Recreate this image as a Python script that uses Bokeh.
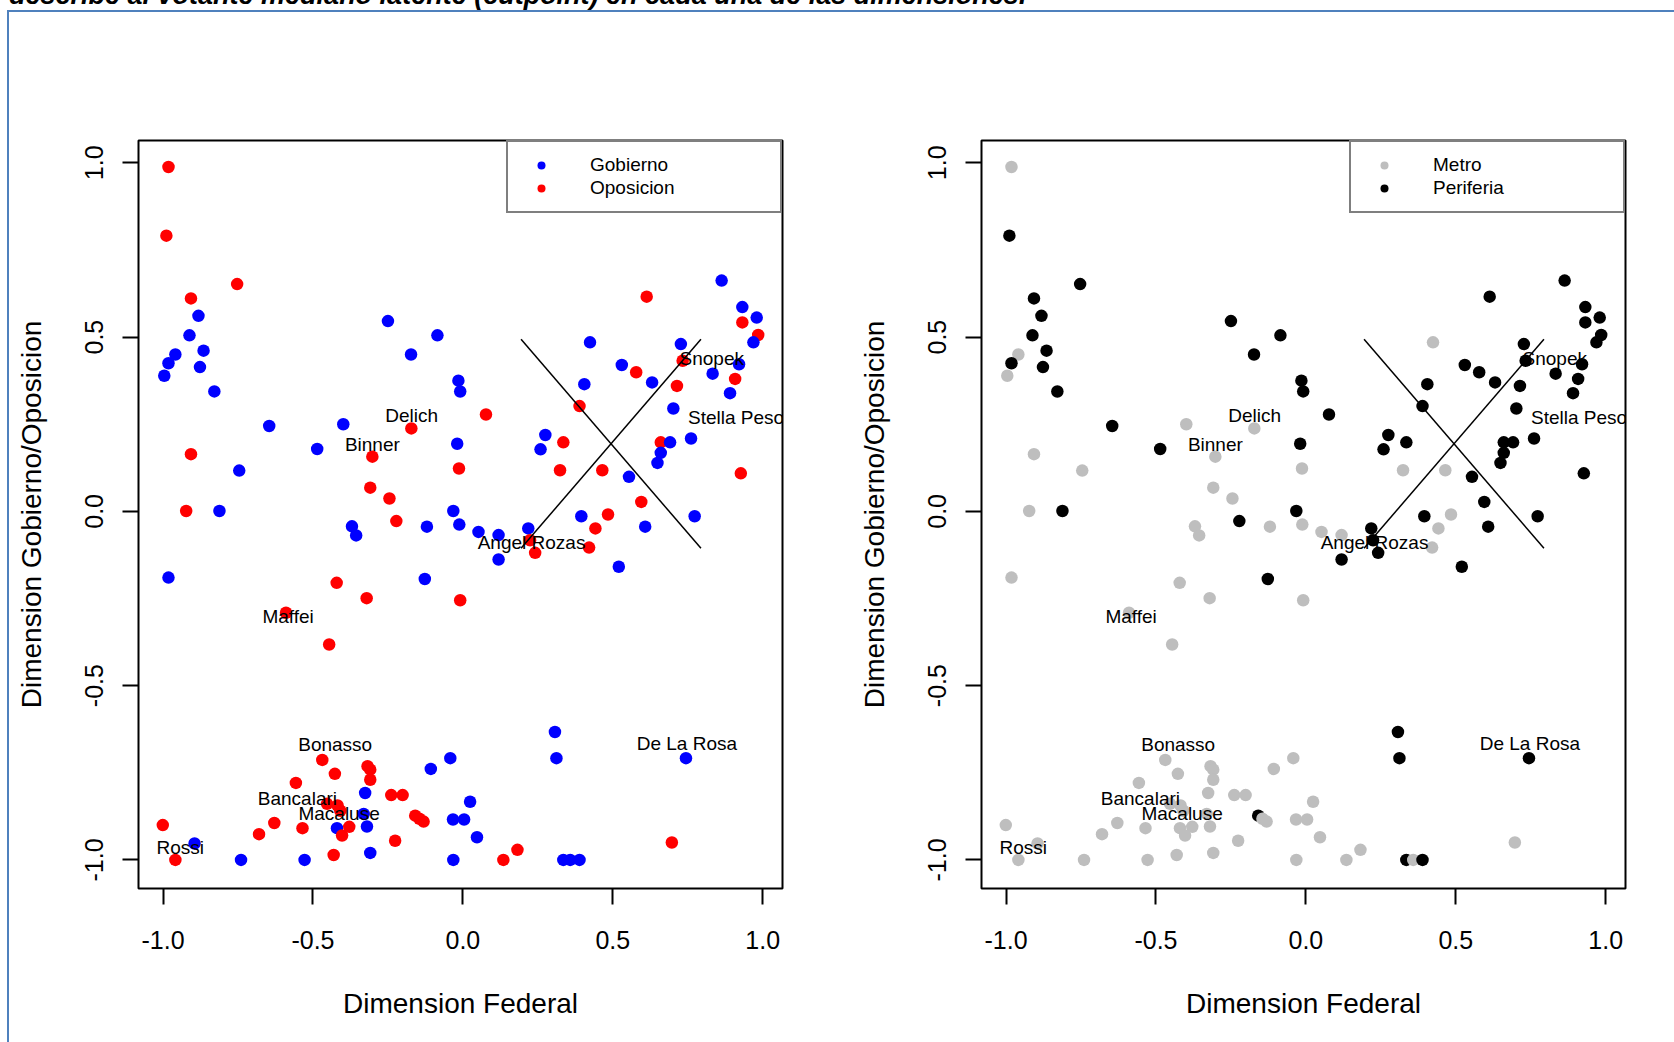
from bokeh.plotting import figure
from bokeh.models import (ColumnDataSource, FixedTicker, PrintfTickFormatter,
                          Legend, LegendItem, Div)
from bokeh.layouts import column, row
from bokeh.embed import file_html
from bokeh.resources import INLINE
from bokeh.core.properties import value

# ---------------- data ----------------
x = [
    -0.982, -0.989, -0.753, -0.907, -0.882, -0.912, -0.865, -0.959, -0.982, -0.877,
    -0.996, -0.829, -0.250, -0.085, -0.173, -0.015, -0.009, -0.646, -0.399, -0.172,
    -0.486, -0.302, -0.907, -0.019, -0.746, -0.013, 0.863, 0.613, 0.932, 0.932,
    0.980, 0.985, 0.969, 0.424, 0.727, 0.733, 0.921, 0.530, 0.578, 0.833,
    0.908, 0.631, 0.405, 0.714, 0.891, 0.077, 0.702, 0.389, 0.275, 0.761,
    0.335, 0.660, 0.691, 0.259, 0.660, 0.649, 0.324, 0.465, 0.554, 0.927,
    -0.309, -0.245, -0.923, -0.812, -0.222, -0.032, -0.012, -0.370, -0.356, -0.120,
    -0.982, -0.127, -0.421, -0.321, -0.009, -0.590, -0.446, -0.469, -0.318, -0.309,
    -0.427, -0.309, -0.107, -0.042, -0.557, -0.326, -0.239, -0.201, 0.024, -0.453,
    -0.418, -0.409, -0.331, -0.159, -0.145, -0.131, -0.033, 0.004, -1.001, -0.629,
    -0.680, -0.535, -0.420, -0.379, -0.320, -0.403, -0.226, -0.895, -0.959, -0.740,
    -0.528, -0.431, -0.309, -0.032, 0.052, 0.119, 0.218, 0.224, 0.241, 0.119,
    0.395, 0.484, 0.595, 0.608, 0.442, 0.421, 0.520, 0.773, 0.307, 0.312,
    0.744, 0.047, 0.182, 0.135, 0.335, 0.358, 0.389, 0.697,
]
y = [
    0.988, 0.791, 0.652, 0.611, 0.561, 0.505, 0.461, 0.450, 0.425, 0.414,
    0.389, 0.344, 0.546, 0.505, 0.450, 0.375, 0.344, 0.245, 0.250, 0.238,
    0.179, 0.157, 0.164, 0.194, 0.117, 0.123, 0.662, 0.616, 0.586, 0.542,
    0.556, 0.506, 0.485, 0.485, 0.480, 0.432, 0.422, 0.420, 0.399, 0.395,
    0.380, 0.370, 0.365, 0.360, 0.339, 0.278, 0.295, 0.302, 0.219, 0.209,
    0.198, 0.198, 0.198, 0.178, 0.168, 0.139, 0.118, 0.118, 0.099, 0.109,
    0.068, 0.037, 0.001, 0.001, -0.028, 0.001, -0.038, -0.043, -0.069, -0.044,
    -0.190, -0.194, -0.205, -0.249, -0.255, -0.291, -0.382, -0.713, -0.731, -0.741,
    -0.753, -0.770, -0.739, -0.708, -0.779, -0.808, -0.814, -0.814, -0.833, -0.839,
    -0.844, -0.859, -0.868, -0.873, -0.882, -0.890, -0.884, -0.884, -0.900, -0.894,
    -0.926, -0.909, -0.909, -0.905, -0.904, -0.930, -0.945, -0.953, -1.000, -1.000,
    -1.000, -0.986, -0.980, -1.000, -0.059, -0.068, -0.049, -0.083, -0.119, -0.138,
    -0.014, -0.009, 0.027, -0.044, -0.049, -0.104, -0.159, -0.014, -0.633, -0.708,
    -0.708, -0.935, -0.971, -1.000, -1.000, -1.000, -1.000, -0.950,
]
# G = Gobierno, O = Oposicion
partido_cod = [
    "O", "O", "O", "O", "G", "G", "G", "G", "G", "G",
    "G", "G", "G", "G", "G", "G", "G", "G", "G", "O",
    "G", "O", "O", "G", "G", "O", "G", "O", "G", "O",
    "G", "O", "G", "G", "G", "O", "G", "G", "O", "G",
    "O", "G", "G", "O", "G", "O", "G", "O", "G", "G",
    "O", "O", "G", "G", "G", "G", "O", "O", "G", "O",
    "O", "O", "O", "G", "O", "G", "G", "G", "G", "G",
    "G", "G", "O", "O", "O", "O", "O", "O", "O", "O",
    "O", "O", "G", "G", "O", "G", "O", "O", "G", "O",
    "O", "O", "G", "O", "O", "O", "G", "G", "O", "O",
    "O", "O", "G", "O", "G", "O", "O", "G", "O", "G",
    "G", "O", "G", "G", "G", "G", "G", "O", "O", "G",
    "G", "O", "O", "G", "O", "O", "G", "G", "G", "G",
    "G", "G", "O", "O", "G", "G", "G", "O",
]
# M = Metro, P = Periferia
region_cod = [
    "M", "P", "P", "P", "P", "P", "P", "M", "P", "P",
    "M", "P", "P", "P", "P", "P", "P", "P", "M", "M",
    "P", "M", "M", "P", "M", "M", "P", "P", "P", "P",
    "P", "P", "P", "M", "P", "P", "P", "P", "P", "P",
    "P", "P", "P", "P", "P", "P", "P", "P", "P", "P",
    "P", "P", "P", "P", "P", "P", "M", "M", "P", "P",
    "M", "M", "M", "P", "P", "P", "M", "M", "M", "M",
    "M", "P", "M", "M", "M", "M", "M", "M", "M", "M",
    "M", "M", "M", "M", "M", "M", "M", "M", "M", "M",
    "M", "M", "M", "P", "M", "M", "M", "M", "M", "M",
    "M", "M", "M", "M", "M", "M", "M", "M", "M", "M",
    "M", "M", "M", "M", "M", "M", "P", "P", "P", "P",
    "P", "M", "P", "P", "M", "M", "P", "P", "P", "P",
    "P", "M", "M", "M", "P", "M", "P", "M",
]
partido_nombres = {"G": "Gobierno", "O": "Oposicion"}
region_nombres = {"M": "Metro", "P": "Periferia"}

label_names = ["Delich", "Binner", "Snopek", "Stella Peso", "Angel Rozas", "Maffei",
               "Bonasso", "Bancalari", "Macaluse", "Rossi", "De La Rosa"]
label_x = [-0.171, -0.302, 0.830, 0.911, 0.229, -0.583, -0.426, -0.552, -0.413, -0.943, 0.747]
label_y = [0.274, 0.193, 0.439, 0.270, -0.088, -0.301, -0.669, -0.823, -0.868, -0.964, -0.667]

# cutting lines (two segments crossing at the cutpoint)
cut_x0 = [0.194, 0.194]
cut_y0 = [0.494, -0.106]
cut_x1 = [0.794, 0.794]
cut_y1 = [-0.106, 0.494]

ticks = [-1.0, -0.5, 0.0, 0.5, 1.0]
x_lim = (-1.082, 1.066)
y_lim = (-1.082, 1.064)
x_title = "Dimension Federal"
y_title = "Dimension Gobierno/Oposicion"
header_text = "describe al votante mediano latente (cutpoint) en cada una de las dimensiones."

FONT = "Liberation Sans"


def make_panel(codes, names, palette, order, width, b_left, b_right):
    groups = [names[c] for c in codes]
    colors = [palette[g] for g in groups]
    src = ColumnDataSource(dict(x=x, y=y, g=groups, c=colors))
    p = figure(width=width, height=1030, x_range=x_lim, y_range=y_lim,
               output_backend="svg", toolbar_location=None,
               min_border_left=b_left, min_border_right=b_right,
               min_border_top=128, min_border_bottom=154,
               background_fill_color="white", border_fill_color="white")
    p.outline_line_color = "black"
    p.outline_line_width = 2
    p.grid.visible = False

    r = p.scatter("x", "y", source=src, size=12.5, fill_color="c", line_color=None)
    p.segment(cut_x0, cut_y0, cut_x1, cut_y1, line_color="black", line_width=1.5)
    p.text(label_x, label_y, text=label_names, text_font=value(FONT),
           text_font_size="19px", text_align="center", text_baseline="middle",
           text_color="black")

    for ax in (p.xaxis[0], p.yaxis[0]):
        ax.ticker = FixedTicker(ticks=ticks)
        ax.formatter = PrintfTickFormatter(format="%.1f")
        ax.axis_line_color = None
        ax.major_tick_out = 16
        ax.major_tick_in = 0
        ax.major_tick_line_width = 2
        ax.major_tick_line_color = "black"
        ax.minor_tick_line_color = None
        ax.major_label_text_font = FONT
        ax.major_label_text_font_size = "25px"
        ax.major_label_text_color = "black"
        ax.axis_label_text_font = FONT
        ax.axis_label_text_font_size = "28px"
        ax.axis_label_text_font_style = "normal"
        ax.axis_label_text_color = "black"
    p.xaxis.axis_label = x_title
    p.yaxis.axis_label = y_title
    p.xaxis.major_label_standoff = 26
    p.xaxis.axis_label_standoff = 36
    p.yaxis.major_label_standoff = 19
    p.yaxis.axis_label_standoff = 36
    p.yaxis.major_label_orientation = "vertical"

    items = [LegendItem(label=g, renderers=[r], index=groups.index(g)) for g in order]
    leg = Legend(items=items, location="top_right", margin=0, padding=12, spacing=1,
                 glyph_width=42, glyph_height=20, label_standoff=28,
                 label_width=178, label_height=20,
                 label_text_font=FONT, label_text_font_size="19px",
                 label_text_color="black",
                 border_line_color="black", border_line_width=2,
                 background_fill_color="white", background_fill_alpha=1.0)
    p.add_layout(leg)
    return p


p_left = make_panel(partido_cod, partido_nombres,
                    {"Gobierno": "#0000FF", "Oposicion": "#FF0000"},
                    ["Gobierno", "Oposicion"], 828, 129, 55)
p_right = make_panel(region_cod, region_nombres,
                     {"Metro": "#BEBEBE", "Periferia": "#000000"},
                     ["Metro", "Periferia"], 837, 144, 49)

header = Div(width=1674, height=12, margin=0, text=(
    '<div style="position:relative;width:1674px;height:12px;overflow:hidden;">'
    '<div style="position:absolute;left:9px;top:-18px;white-space:nowrap;'
    "font-family:'Liberation Sans';font-style:italic;font-weight:bold;"
    'font-size:27px;line-height:27px;color:#000;">' + header_text + '</div>'
    '<div style="position:absolute;left:7px;top:10px;width:1667px;height:2px;'
    'background:#4F81BD;"></div></div>'))
strip = Div(width=9, height=1030, margin=0, text=(
    '<div style="position:relative;width:9px;height:1030px;">'
    '<div style="position:absolute;left:7px;top:0px;width:2px;height:1030px;'
    'background:#4F81BD;"></div></div>'))

layout = column(header, row(strip, p_left, p_right, spacing=0), spacing=0)

open("out.html", "w").write(file_html(layout, INLINE))
